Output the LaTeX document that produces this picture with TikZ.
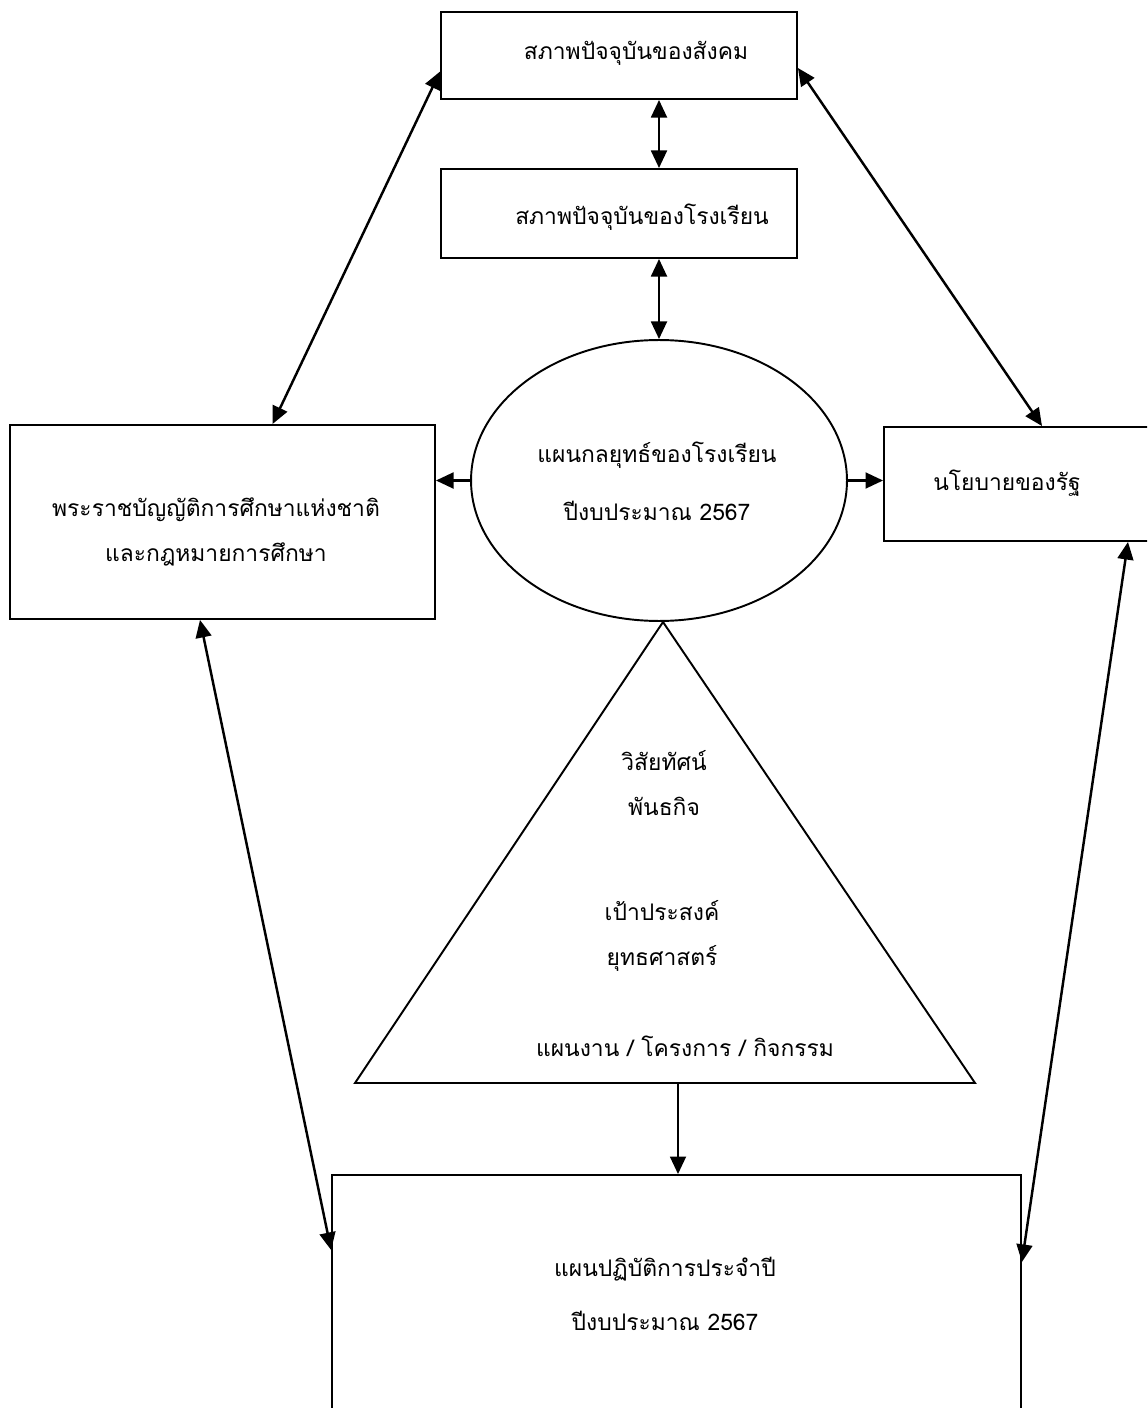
\documentclass[tikz,border=0pt]{standalone}
\usepackage{fontspec}
\newfontfamily\thaifont[Script=Thai]{Loma}
\usetikzlibrary{arrows.meta,shapes.geometric}

\tikzset{
    box/.style={draw, line width=1.1pt, inner sep=0pt},
    twoway/.style={line width=1.4pt, {Triangle[length=10pt,width=9pt]}-{Triangle[length=10pt,width=9pt]}},
    oneway/.style={line width=1.4pt, -{Triangle[length=10pt,width=9pt]}},
    thai/.style={font=\thaifont\fontsize{13pt}{26pt}\selectfont, align=center, inner sep=0pt},
}

\begin{document}
\begin{tikzpicture}[x=0.02cm, y=-0.02cm]
    \useasboundingbox (0,0) rectangle (1147,1408);
    \clip (0,0) rectangle (1147,1408);

    % Top boxes
    \node[box, minimum width=7.12cm, minimum height=1.74cm] (society) at (619,55.5) {};
    \node[thai] (societytext) at (636,53) {สภาพปัจจุบันของสังคม};
    \node[box, minimum width=7.12cm, minimum height=1.78cm] (school) at (619,213.5) {};
    \node[thai] (schooltext) at (642,217) {สภาพปัจจุบันของโรงเรียน};

    % Strategic plan in the middle
    \node[box, ellipse, minimum width=7.52cm, minimum height=5.62cm] (strategy) at (659,480.5) {};
    \node[thai] (strategytext) at (657,481) {แผนกลยุทธ์ของโรงเรียน\\[7pt]ปีงบประมาณ 2567};

    % Side boxes
    \node[box, minimum width=8.5cm, minimum height=3.88cm] (law) at (222.5,522) {};
    \node[thai] (lawtext) at (216,532) {พระราชบัญญัติการศึกษาแห่งชาติ\\และกฎหมายการศึกษา};
    \node[box, minimum width=5.32cm, minimum height=2.28cm] (policy) at (1017,484) {};
    \node[thai] (policytext) at (1007,483) {นโยบายของรัฐ};

    % Triangle
    \coordinate (apex) at (663,622);
    \coordinate (baseleft) at (355,1083);
    \coordinate (baseright) at (975,1083);
    \coordinate (tribase) at (678,1083);
    \draw[line width=1.1pt, line join=miter] (apex) -- (baseleft) -- (baseright) -- cycle;
    \node[thai] (vision) at (664,783) {วิสัยทัศน์\\พันธกิจ};
    \node[thai] (goals) at (662,936) {เป้าประสงค์\\ยุทธศาสตร์};
    \node[thai] (projects) at (685,1046) {แผนงาน / โครงการ / กิจกรรม};

    % Annual plan at the bottom
    \node[box, minimum width=13.78cm, minimum height=6.1cm] (plan) at (676.5,1327.5) {};
    \node[thai] (plantext) at (665,1294) {แผนปฏิบัติการประจำปี\\[5pt]ปีงบประมาณ 2567};

    % Arrows
    \draw[twoway] (society.south -| strategy.north) -- (school.north -| strategy.north);
    \draw[twoway] (school.south -| strategy.north) -- (strategy.north);
    \draw[oneway] (strategy.west) -- (law.east |- strategy.west);
    \draw[oneway] (strategy.east) -- (policy.west |- strategy.east);
    \draw[twoway] ([xshift=1cm]law.north) -- ([yshift=-0.32cm]society.west);
    \draw[twoway] ([yshift=-0.25cm]society.east) -- ([xshift=0.5cm]policy.north);
    \draw[twoway] ([xshift=-0.45cm]law.south) -- ([yshift=1.55cm]plan.west);
    \draw[twoway] ([xshift=2.22cm]policy.south) -- ([yshift=1.31cm]plan.east);
    \draw[oneway] (tribase) -- (plan.north -| tribase);
\end{tikzpicture}
\end{document}
